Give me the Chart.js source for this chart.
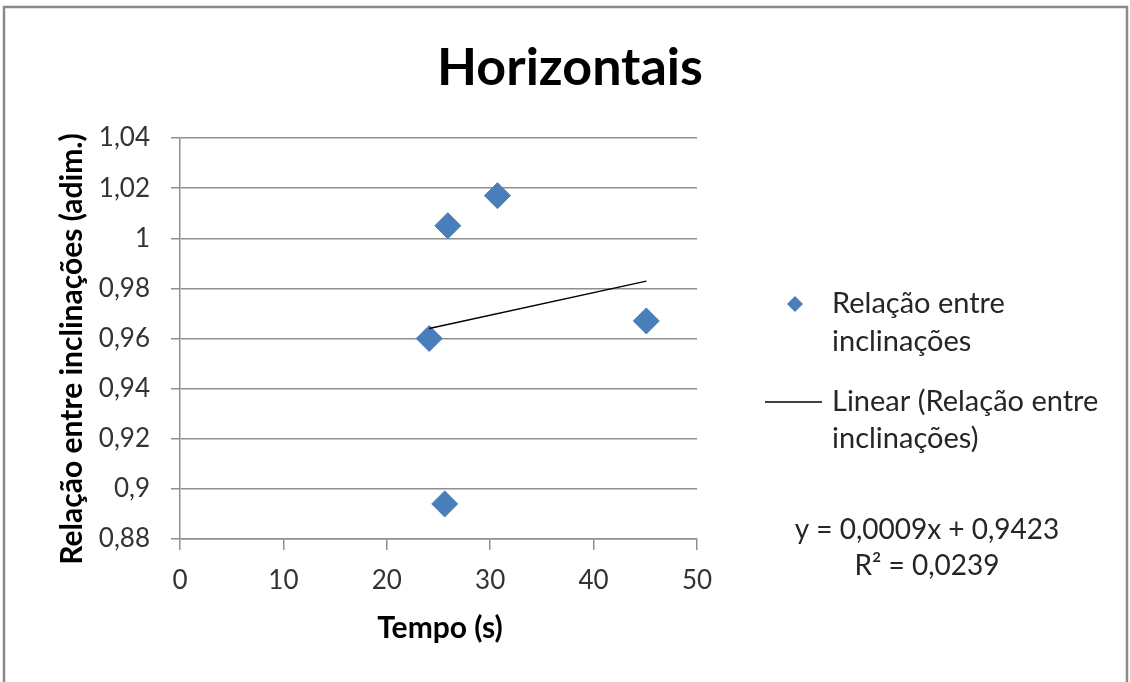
<!DOCTYPE html>
<html>
<head>
<meta charset="utf-8">
<title>Horizontais</title>
<script src="https://cdn.jsdelivr.net/npm/chart.js@4/dist/chart.umd.min.js"></script>
<style>
  html, body { margin: 0; padding: 0; background: #ffffff; overflow: hidden; }
  canvas { display: block; }
</style>
</head>
<body>
<canvas id="chart" width="1130" height="682"></canvas>
<script>
// Measured points: time (s) vs. ratio between slopes
const tempo = [24.1, 25.9, 30.7, 45.1, 25.6];
const relacao = [0.960, 1.005, 1.017, 0.967, 0.894];

// Linear trend as printed on the chart
const trendSlope = 0.0009;
const trendIntercept = 0.9423;
const trendLabel = 'y = 0,0009x + 0,9423';
const r2Label = 'R² = 0,0239';

// Axis ticks and their labels
const xTickValues = [0, 10, 20, 30, 40, 50];
const yTickValues = [0.88, 0.90, 0.92, 0.94, 0.96, 0.98, 1.00, 1.02, 1.04];
const yTickLabels = ['0,88', '0,9', '0,92', '0,94', '0,96', '0,98', '1', '1,02', '1,04'];

const chartTitle = 'Horizontais';
const xTitle = 'Tempo (s)';
const yTitle = 'Relação entre inclinações (adim.)';
const seriesName = ['Relação entre', 'inclinações'];
const trendName = ['Linear (Relação entre', 'inclinações)'];

const FONT = 'Lato, "Open Sans", sans-serif';
const MARKER = '#4a7ebb';
const GRID = '#8f8f8f';

// Trend line spans the observed time range
const tMin = Math.min(...tempo);
const tMax = Math.max(...tempo);
const trendPoints = [tMin, tMax].map(x => ({ x, y: trendSlope * x + trendIntercept }));

function diamond(ctx, x, y, r) {
  ctx.beginPath();
  ctx.moveTo(x, y - r);
  ctx.lineTo(x + r, y);
  ctx.lineTo(x, y + r);
  ctx.lineTo(x - r, y);
  ctx.closePath();
}

// Frame, title, axis titles, legend and trend equation
const decorations = {
  id: 'decorations',
  beforeDraw(chart) {
    const ctx = chart.ctx;
    ctx.save();
    ctx.fillStyle = '#ffffff';
    ctx.fillRect(0, 0, chart.width, chart.height);
    ctx.strokeStyle = '#8a8a8a';
    ctx.lineWidth = 2.5;
    ctx.strokeRect(4, 7, 1123, 700);
    ctx.restore();
  },
  afterDraw(chart) {
    const ctx = chart.ctx;
    ctx.save();
    ctx.textBaseline = 'middle';

    // chart title
    ctx.fillStyle = '#000000';
    ctx.textAlign = 'center';
    ctx.font = 'bold 52px ' + FONT;
    ctx.fillText(chartTitle, 570, 68);

    // axis titles
    ctx.font = 'bold 30px ' + FONT;
    ctx.fillText(xTitle, 440, 628);
    ctx.save();
    ctx.translate(72, 349);
    ctx.rotate(-Math.PI / 2);
    ctx.fillText(yTitle, 0, 0);
    ctx.restore();

    // legend
    ctx.textAlign = 'left';
    ctx.font = '29px ' + FONT;
    ctx.fillStyle = MARKER;
    diamond(ctx, 795, 304, 8);
    ctx.fill();
    ctx.fillStyle = '#262626';
    ctx.fillText(seriesName[0], 832, 304);
    ctx.fillText(seriesName[1], 832, 342);

    ctx.strokeStyle = '#000000';
    ctx.lineWidth = 1.5;
    ctx.beginPath();
    ctx.moveTo(765, 402);
    ctx.lineTo(822, 402);
    ctx.stroke();
    ctx.fillText(trendName[0], 832, 402);
    ctx.fillText(trendName[1], 832, 439);

    // trend equation
    ctx.textAlign = 'center';
    ctx.font = '28px ' + FONT;
    ctx.fillText(trendLabel, 927, 530);
    ctx.fillText(r2Label, 927, 566);
    ctx.restore();
  }
};

new Chart(document.getElementById('chart'), {
  type: 'scatter',
  data: {
    datasets: [
      {
        label: trendName.join(' '),
        data: trendPoints,
        showLine: true,
        borderColor: '#000000',
        borderWidth: 1.5,
        pointRadius: 0,
        fill: false,
        order: 0
      },
      {
        label: seriesName.join(' '),
        data: tempo.map((x, i) => ({ x, y: relacao[i] })),
        pointStyle: 'rectRot',
        pointRadius: 13,
        backgroundColor: MARKER,
        borderColor: MARKER,
        borderWidth: 1,
        order: 1
      }
    ]
  },
  options: {
    responsive: false,
    animation: false,
    events: [],
    layout: { padding: { left: 0, top: 138, right: 433, bottom: 43 } },
    plugins: {
      legend: { display: false },
      title: { display: false },
      tooltip: { enabled: false }
    },
    scales: {
      x: {
        type: 'linear',
        min: 0,
        max: 50,
        afterBuildTicks: s => { s.ticks = xTickValues.map(v => ({ value: v })); },
        afterFit: s => { s.height = 100; },
        grid: { drawOnChartArea: false, drawTicks: true, tickLength: 11, color: GRID, lineWidth: 1.5 },
        border: { display: true, color: GRID, width: 1.5 },
        ticks: { font: { family: FONT, size: 26 }, color: '#333333', padding: 15, maxRotation: 0 }
      },
      y: {
        type: 'linear',
        min: 0.88,
        max: 1.04,
        afterBuildTicks: s => { s.ticks = yTickValues.map(v => ({ value: v })); },
        afterFit: s => { s.width = 180; },
        grid: { drawOnChartArea: true, drawTicks: true, tickLength: 9, color: GRID, lineWidth: 1.5 },
        border: { display: true, color: GRID, width: 1.5 },
        ticks: {
          font: { family: FONT, size: 26 },
          color: '#333333',
          padding: 21,
          callback: (value) => yTickLabels[yTickValues.findIndex(v => Math.abs(v - value) < 1e-9)]
        }
      }
    }
  },
  plugins: [decorations]
});
</script>
</body>
</html>
